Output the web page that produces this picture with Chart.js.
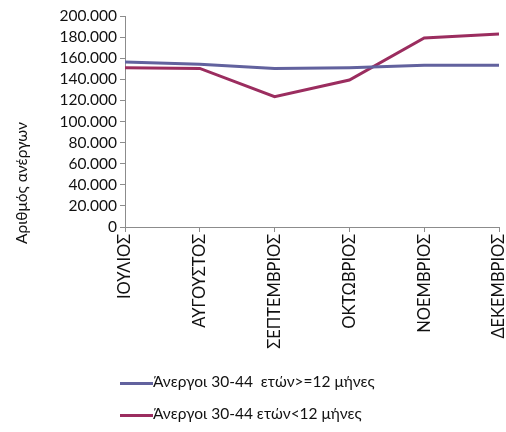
<!DOCTYPE html>
<html>
<head>
<meta charset="utf-8">
<script src="https://cdn.jsdelivr.net/npm/chart.js@4"></script>
<style>
    body { margin: 0; background: #fff; }
    #wrap { position: relative; width: 506px; height: 432px; }
    #legend { position: absolute; left: 120px; top: 372px; font-family: Lato, sans-serif; font-size: 15.5px; color: #111; }
    #legend div { height: 32px; display: flex; align-items: flex-start; }
    #legend span.line { display: inline-block; width: 33px; height: 3px; margin-top: 10px; }
</style>
</head>
<body>
<div id="wrap">
    <canvas id="myChart" width="506" height="432"></canvas>
    <div id="legend"></div>
</div>
<script>
const months = ['ΙΟΥΛΙΟΣ', 'ΑΥΓΟΥΣΤΟΣ', 'ΣΕΠΤΕΜΒΡΙΟΣ', 'ΟΚΤΩΒΡΙΟΣ', 'ΝΟΕΜΒΡΙΟΣ', 'ΔΕΚΕΜΒΡΙΟΣ'];
const longTerm = [156400, 154200, 150200, 151000, 153300, 153300];
const shortTerm = [151000, 150300, 123500, 139300, 179100, 182900];
const seriesNames = ['Άνεργοι 30-44  ετών>=12 μήνες', 'Άνεργοι 30-44 ετών<12 μήνες'];
const yTitle = 'Αριθμός ανέργων';

const axisColor = '#8c8c8c';
const fontFamily = 'Lato, sans-serif';

function fmt(v) {
    return String(v).replace(/\B(?=(\d{3})+(?!\d))/g, '.');
}

// y axis title drawn lower than chart.js would centre it
const yTitlePlugin = {
    id: 'yTitle',
    afterDraw(chart) {
        const ctx = chart.ctx;
        ctx.save();
        ctx.translate(22, 183);
        ctx.rotate(-Math.PI / 2);
        ctx.font = '15.5px ' + fontFamily;
        ctx.fillStyle = '#111';
        ctx.textAlign = 'center';
        ctx.textBaseline = 'middle';
        ctx.fillText(yTitle, 0, 0);
        ctx.restore();
    }
};

var ctx = document.getElementById('myChart').getContext('2d');

var myChart = new Chart(ctx, {
    type: 'line',
    data: {
        labels: months,
        datasets: [{
            label: seriesNames[0],
            data: longTerm,
            borderColor: '#62629e',
            borderWidth: 3,
            pointRadius: 0,
            tension: 0
        }, {
            label: seriesNames[1],
            data: shortTerm,
            borderColor: '#9b2d5f',
            borderWidth: 3,
            pointRadius: 0,
            tension: 0
        }]
    },
    options: {
        responsive: false,
        animation: false,
        layout: { padding: { top: 16, right: 7, left: 0, bottom: 0 } },
        plugins: {
            legend: { display: false },
            tooltip: { enabled: false }
        },
        scales: {
            x: {
                offset: false,
                grid: { display: true, drawOnChartArea: false, drawTicks: true, tickLength: 5, color: axisColor },
                border: { color: axisColor },
                ticks: {
                    minRotation: 90, maxRotation: 90, autoSkip: false,
                    color: '#111', font: { family: fontFamily, size: 16.5 }, padding: 2
                },
                afterFit(scale) {
                    scale.height = 205;
                    scale.paddingLeft = 0;
                    scale.paddingRight = 0;
                }
            },
            y: {
                min: 0, max: 200000,
                grid: { display: true, drawOnChartArea: false, drawTicks: true, tickLength: 5, color: axisColor },
                border: { color: axisColor },
                ticks: {
                    stepSize: 20000, autoSkip: false,
                    color: '#111', font: { family: fontFamily, size: 15.5 }, padding: 3,
                    callback: (v) => fmt(v)
                },
                afterFit(scale) {
                    scale.width = 125;
                    scale.paddingTop = 0;
                    scale.paddingBottom = 0;
                }
            }
        }
    },
    plugins: [yTitlePlugin]
});

// legend from the datasets
const legend = document.getElementById('legend');
myChart.data.datasets.forEach((ds) => {
    const row = document.createElement('div');
    const line = document.createElement('span');
    line.className = 'line';
    line.style.background = ds.borderColor;
    const txt = document.createElement('span');
    txt.textContent = ds.label;
    txt.style.whiteSpace = 'pre';
    row.appendChild(line);
    row.appendChild(txt);
    legend.appendChild(row);
});
</script>
</body>
</html>
